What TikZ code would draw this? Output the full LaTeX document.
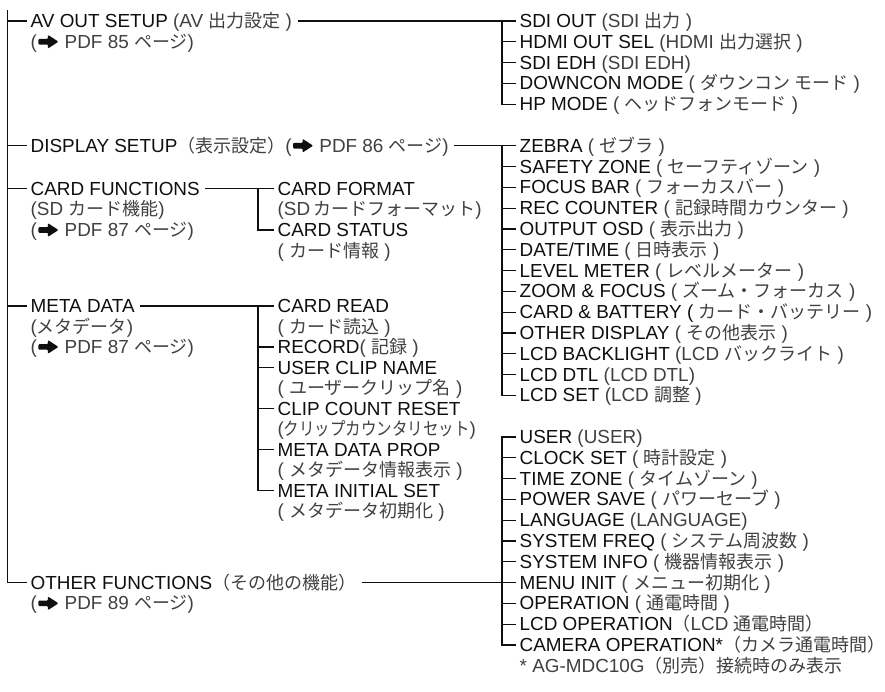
\documentclass[tikz,border=0pt]{standalone}
\usepackage{fontspec}
\setmainfont{Liberation Sans}
\newfontfamily\jpfam[Scale=0.952]{Noto Sans CJK JP}
\newcommand\JP[1]{{\jpfam #1}}
\definecolor{paren}{gray}{0.25}
\definecolor{ink}{gray}{0.06}
\newcommand\pa[1]{\textcolor{paren}{#1}}
\newcommand\arr{\kern1.5pt\tikz[x=1pt,y=1pt,baseline=0pt]{\fill[ink,rounded corners=0.9pt]
  (0,3.8) -- (9.5,3.8) -- (9.5,-0.2) -- (20,6.6) -- (9.5,13.4) -- (9.5,9.4) -- (0,9.4) -- cycle;}\kern1pt}
\begin{document}
\begin{tikzpicture}[x=1pt,y=-1pt,
  lbl/.style={anchor=west, inner xsep=3.5pt, inner ysep=0pt, text height=13pt, text depth=0pt,
    font=\fontsize{18.9}{20}\selectfont, text=ink},
  conn/.style={draw=ink, line width=1.3pt},
  outconn/.style={conn, shorten <=2pt}]
\useasboundingbox (0,0) rectangle (885,691);
\coordinate (trunk) at (7.5,10);
\coordinate (mv) at (258,0);
\coordinate (rv) at (502,0);
% ---------- left column ----------
\node[lbl] (av)  at (27,21)    {AV OUT SETUP \pa{(AV \JP{出力設定} )}};
\node[lbl] (av2) at (27,41.8)  {\pa{(\arr{} PDF 85 \JP{ページ})}};
\node[lbl] (disp) at (27,145.8) {DISPLAY SETUP\pa{\JP{（表示設定）}(\arr{} PDF 86 \JP{ページ})}};
\node[lbl] (cf)  at (27,188.5) {CARD FUNCTIONS};
\node[lbl] (cf2) at (27,209.3) {\pa{(SD \JP{カード機能})}};
\node[lbl] (cf3) at (27,230.1) {\pa{(\arr{} PDF 87 \JP{ページ})}};
\node[lbl] (md)  at (27,306)   {META DATA};
\node[lbl] (md2) at (27,326.5) {\pa{(\JP{メタデータ})}};
\node[lbl] (md3) at (27,347)   {\pa{(\arr{} PDF 87 \JP{ページ})}};
\node[lbl] (of)  at (27,582.6) {OTHER FUNCTIONS\pa{\JP{（その他の機能）}}};
\node[lbl] (of2) at (27,603.4) {\pa{(\arr{} PDF 89 \JP{ページ})}};
% ---------- middle column ----------
\node[lbl] (cfmt)  at (274,188.5) {CARD FORMAT};
\node[lbl] (cfmt2) at (274,209.3) {\pa{(SD\,\JP{カードフォーマット})}};
\node[lbl] (cstat) at (274,230.1) {CARD STATUS};
\node[lbl] (cstat2) at (274,250.9) {\pa{( \JP{カード情報} )}};
\node[lbl] (cread)  at (274,306)   {CARD READ};
\node[lbl] (cread2) at (274,326.5) {\pa{( \JP{カード読込} )}};
\node[lbl] (rec)    at (274,347)   {RECORD\pa{( \JP{記録} )}};
\node[lbl] (uclip)  at (274,367.5) {USER CLIP NAME};
\node[lbl] (uclip2) at (274,388)   {\pa{( \JP{ユーザークリップ名} )}};
\node[lbl] (ccnt)   at (274,408.5) {CLIP COUNT RESET};
\node[lbl] (ccnt2)  at (274,429)   {\pa{(\scalebox{0.86}[1]{\JP{クリップカウンタリセット}})}};
\node[lbl] (mprop)  at (274,449.5) {META DATA PROP};
\node[lbl] (mprop2) at (274,470)   {\pa{( \JP{メタデータ情報表示} )}};
\node[lbl] (minit)  at (274,490.5) {META INITIAL SET};
\node[lbl] (minit2) at (274,511)   {\pa{( \JP{メタデータ初期化} )}};
% ---------- right column ----------
\node[lbl] (sdiout)  at (516,21)    {SDI OUT \pa{(SDI \JP{出力} )}};
\node[lbl] (hdmi)    at (516,41.8)  {HDMI OUT SEL \pa{(HDMI \JP{出力選択} )}};
\node[lbl] (sdiedh)  at (516,62.6)  {SDI EDH \pa{(SDI EDH)}};
\node[lbl] (downcon) at (516,83.4)  {DOWNCON MODE \pa{( \JP{ダウンコン モード} )}};
\node[lbl] (hpmode)  at (516,104.2) {HP MODE \pa{( \JP{ヘッドフォンモード} )}};
\node[lbl] (zebra)   at (516,145.8) {ZEBRA \pa{( \JP{ゼブラ} )}};
\node[lbl] (safety)  at (516,166.6) {SAFETY ZONE \pa{( \JP{セーフティゾーン} )}};
\node[lbl] (fbar)    at (516,187.4) {FOCUS BAR \pa{( \JP{フォーカスバー} )}};
\node[lbl] (reccnt)  at (516,208.2) {REC COUNTER \pa{( \JP{記録時間カウンター} )}};
\node[lbl] (osd)     at (516,229)   {OUTPUT OSD \pa{( \JP{表示出力} )}};
\node[lbl] (dtime)   at (516,249.8) {DATE/TIME \pa{( \JP{日時表示} )}};
\node[lbl] (lvl)     at (516,270.6) {LEVEL METER \pa{( \JP{レベルメーター} )}};
\node[lbl] (zoom)    at (516,291.4) {ZOOM \& FOCUS \pa{( \JP{ズーム・フォーカス} )}};
\node[lbl] (cbat)    at (516,312.2) {CARD \& BATTERY ( \pa{\JP{カード・バッテリー} )}};
\node[lbl] (odisp)   at (516,333)   {OTHER DISPLAY \pa{( \JP{その他表示} )}};
\node[lbl] (lcdbl)   at (516,353.8) {LCD BACKLIGHT \pa{(LCD \JP{バックライト} )}};
\node[lbl] (lcddtl)  at (516,374.6) {LCD DTL \pa{(LCD DTL)}};
\node[lbl] (lcdset)  at (516,395.4) {LCD SET \pa{(LCD \JP{調整} )}};
\node[lbl] (user)    at (516,437)   {USER \pa{(USER)}};
\node[lbl] (clock)   at (516,457.8) {CLOCK SET \pa{( \JP{時計設定} )}};
\node[lbl] (tzone)   at (516,478.6) {TIME ZONE \pa{( \JP{タイムゾーン} )}};
\node[lbl] (psave)   at (516,499.4) {POWER SAVE \pa{( \JP{パワーセーブ} )}};
\node[lbl] (lang)    at (516,520.2) {LANGUAGE \pa{(LANGUAGE)}};
\node[lbl] (sfreq)   at (516,541)   {SYSTEM FREQ \pa{( \JP{システム周波数} )}};
\node[lbl] (sinfo)   at (516,561.8) {SYSTEM INFO \pa{( \JP{機器情報表示} )}};
\node[lbl] (minit0)  at (516,582.6) {MENU INIT \pa{( \JP{メニュー初期化} )}};
\node[lbl] (oper)    at (516,603.4) {OPERATION \pa{( \JP{通電時間} )}};
\node[lbl] (lcdop)   at (516,624.2) {LCD OPERATION\pa{\JP{（}LCD \JP{通電時間）}}};
\node[lbl] (camop)   at (516,645)   {CAMERA OPERATION*\pa{\JP{（カメラ通電時間）}}};
\node[lbl] (fn)      at (516,665.8) {\pa{* AG-MDC10G\JP{（別売）接続時のみ表示}}};
% ---------- connectors ----------
\draw[conn] (trunk) |- (of.west);
\foreach \n in {av,disp,cf,md} \draw[conn] (trunk |- \n.west) -- (\n.west);
% AV OUT
\draw[outconn] (av.east) -- (sdiout.west);
\draw[conn] (rv |- sdiout.west) |- (hpmode.west);
\foreach \n in {hdmi,sdiedh,downcon} \draw[conn] (rv |- \n.west) -- (\n.west);
% DISPLAY
\draw[outconn] (disp.east) -- (zebra.west);
\draw[conn] (rv |- zebra.west) |- (lcdset.west);
\foreach \n in {safety,fbar,reccnt,osd,dtime,lvl,zoom,cbat,odisp,lcdbl,lcddtl} \draw[conn] (rv |- \n.west) -- (\n.west);
% CARD FUNCTIONS
\draw[outconn] (cf.east) -- (cfmt.west);
\draw[conn] (mv |- cfmt.west) |- (cstat.west);
% META DATA
\draw[outconn] (md.east) -- (cread.west);
\draw[conn] (mv |- cread.west) |- (minit.west);
\foreach \n in {rec,uclip,ccnt,mprop} \draw[conn] (mv |- \n.west) -- (\n.west);
% OTHER FUNCTIONS
\draw[outconn] (of.east) -- (minit0.west);
\draw[conn] (user.west) -| (rv |- camop.west) -- (camop.west);
\foreach \n in {clock,tzone,psave,lang,sfreq,sinfo,oper,lcdop} \draw[conn] (rv |- \n.west) -- (\n.west);
\end{tikzpicture}
\end{document}
